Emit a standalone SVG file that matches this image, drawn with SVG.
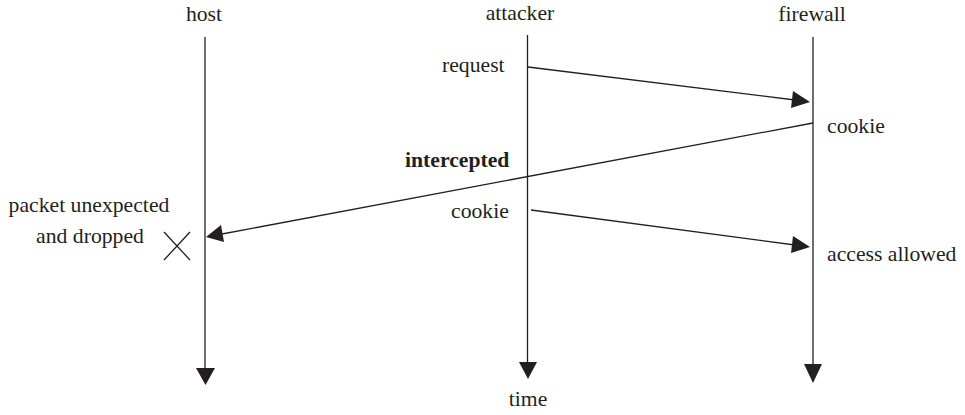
<svg xmlns="http://www.w3.org/2000/svg" width="965" height="415" viewBox="0 0 965 415">
<style>
text{font-family:"Liberation Serif","Times New Roman",serif;font-size:21.7px;fill:#231f20}
.b{font-weight:bold}
.m{text-anchor:middle}
.ln{stroke:#231f20;stroke-width:1.3;fill:none}
.hd{fill:#231f20;stroke:none}
</style>
<rect width="965" height="415" fill="#fff"/>
<g id="host">
<text class="m" x="204" y="21">host</text>
<line class="ln" x1="205" y1="37" x2="205" y2="370"/>
<polygon class="hd" points="196,368 215,368 205.5,385"/>
</g>
<g id="attacker">
<text class="m" x="520" y="20">attacker</text>
<line class="ln" x1="527.5" y1="35" x2="527.5" y2="364"/>
<polygon class="hd" points="519,362 537,362 528,379"/>
</g>
<g id="firewall">
<text class="m" x="812" y="21">firewall</text>
<line class="ln" x1="813" y1="37" x2="813" y2="366"/>
<polygon class="hd" points="804,364 822,364 813,383"/>
</g>
<g id="labels">
<text x="442" y="72">request</text>
<text x="827" y="133">cookie</text>
<text class="b" x="405" y="167">intercepted</text>
<text class="m" x="89" y="212">packet unexpected</text>
<text class="m" x="90" y="243">and dropped</text>
<text x="451" y="218">cookie</text>
<text x="827" y="261">access allowed</text>
<text class="m" x="528" y="406">time</text>
</g>
<g id="drop-mark">
<line class="ln" x1="164" y1="232" x2="190" y2="260"/>
<line class="ln" x1="190" y1="232" x2="164" y2="260"/>
</g>
<g id="connectors">
<line class="ln" x1="528" y1="67" x2="795" y2="100"/>
<polygon class="hd" points="810,102 793,91 791,108"/>
<line class="ln" x1="813" y1="123" x2="222" y2="234"/>
<polygon class="hd" points="206,237 221,225 224,242"/>
<line class="ln" x1="531" y1="210" x2="795" y2="245"/>
<polygon class="hd" points="810,247 793,236 791,253"/>
</g>
</svg>
